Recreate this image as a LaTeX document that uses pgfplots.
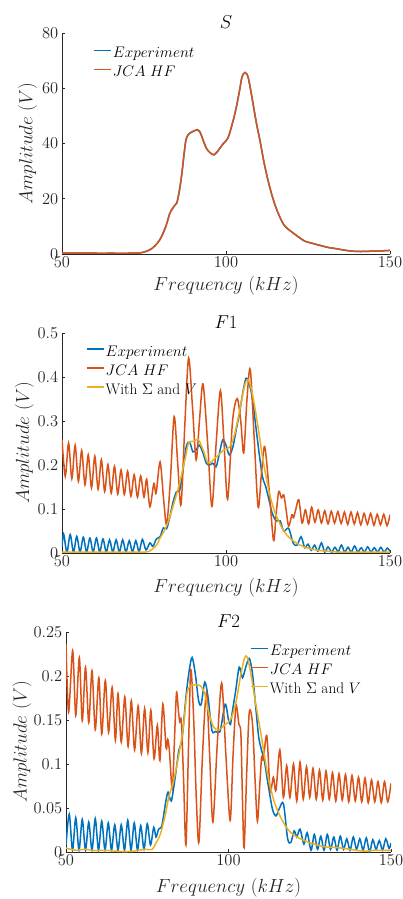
\RequirePackage{fix-cm}
\documentclass[border=0pt]{standalone}
\usepackage{pgfplots}
\pgfplotsset{compat=1.18}
\definecolor{mblue}{rgb}{0,0.447,0.741}
\definecolor{morange}{rgb}{0.85,0.325,0.098}
\definecolor{myellow}{rgb}{0.929,0.694,0.125}
\definecolor{mgray}{rgb}{0.15,0.15,0.15}
\pgfplotsset{
 mstyle/.style={
  scale only axis,
  axis x line*=bottom, axis y line*=left,
  axis line style={-, draw=mgray, line width=0.6pt},
  tick style={mgray, line width=0.6pt},
  tick align=inside,
  major tick length=3.3pt,
  xmin=50, xmax=150,
  xtick={50,100,150},
  xticklabels={$50$,$100$,$150$},
  scaled ticks=false,
  enlargelimits=false,
  tick label style={font=\fontsize{16.5}{19}\selectfont, text=mgray},
  xticklabel style={inner sep=0pt, anchor=north, yshift=-3pt},
  yticklabel style={inner sep=0pt, anchor=east, xshift=-3.5pt},
  label style={font=\fontsize{19}{22}\selectfont, text=mgray},
  xlabel={$Frequency\ (kHz)$},
  ylabel={$Amplitude\ (V)$},
  title style={font=\fontsize{18.7}{22}\selectfont, at={(axis description cs:0.5,0.995)}, anchor=base, inner sep=0pt},
  legend style={draw=none, fill=none, inner sep=0pt, outer sep=0pt, anchor=north west, font=\fontsize{15.3}{18}\selectfont, row sep=5pt, column sep=1pt, nodes={inner sep=0pt, text height=10.5pt, text depth=3.5pt}},
  legend cell align=left,
  legend image code/.code={\draw[#1, line width=1.8pt] (0pt,3.8pt) -- (17pt,3.8pt);},
  every axis plot/.append style={line width=1.5pt, smooth, no marks},
 }
}
\begin{document}
\begin{tikzpicture}
\useasboundingbox (0,0) rectangle (403pt,899pt);
% ---------------- S ----------------
\begin{axis}[mstyle, at={(62pt,645pt)}, anchor=south west, width=328pt, height=221pt,
  ymin=0, ymax=80, ytick={0,20,40,60,80}, yticklabels={$0$,$20$,$40$,$60$,$80$},
  title={$S$},
  xlabel style={at={(axis description cs:0.5,-0.1674)}, anchor=base},
  ylabel style={at={(axis description cs:-0.090,0.5)}, anchor=base},
  legend style={at={(axis description cs:0.0945,0.9354)}}]
\addplot[mblue] coordinates {(50,0.3) (55,0.3) (60,0.3) (62,0.2) (65,0.3) (68,0.2) (71,0.3) (73.8,0.4) (75.5,0.9) (77.3,1.9) (79,3.8) (80.4,6.4) (81.8,10.5) (82.9,14.8) (84,17) (85,18.5) (85.8,23) (86.5,28.7) (87.2,36) (87.8,41.4) (88.5,43.2) (89,43.8) (90.2,44.5) (91.3,45.0) (92.0,44.3) (92.6,42.6) (93.3,40.3) (94.1,38.1) (95.2,36.6) (96.3,35.9) (97.2,36.8) (98.2,38.4) (99.2,40) (100.3,41.4) (101,43.3) (101.7,46.2) (102.5,49.8) (103.3,54.0) (104.1,59) (104.8,63.7) (105.3,65.2) (105.8,65.7) (106.3,65.2) (106.8,63.7) (107.5,59.5) (108.3,54.0) (109.3,47.2) (110.4,40.8) (111.4,34.3) (112.4,28.7) (113.6,23) (114.9,17.9) (116.4,13.4) (118.0,10.0) (120.5,7.6) (122.3,6) (124.1,4.6) (126.5,3.8) (128.7,3.1) (131,2.4) (133.7,1.9) (136,1.4) (138.8,1.0) (141,0.9) (143.9,1.0) (147,1.1) (150,1.3)};
\addlegendentry{$Experiment$}
\addplot[morange] coordinates {(50,0.3) (55,0.3) (60,0.3) (62,0.2) (65,0.3) (68,0.2) (71,0.3) (73.8,0.4) (75.5,0.9) (77.3,1.9) (79,3.8) (80.4,6.4) (81.8,10.5) (82.9,14.8) (84,17) (85,18.5) (85.8,23) (86.5,28.7) (87.2,36) (87.8,41.4) (88.5,43.2) (89,43.8) (90.2,44.5) (91.3,45.0) (92.0,44.3) (92.6,42.6) (93.3,40.3) (94.1,38.1) (95.2,36.6) (96.3,35.9) (97.2,36.8) (98.2,38.4) (99.2,40) (100.3,41.4) (101,43.3) (101.7,46.2) (102.5,49.8) (103.3,54.0) (104.1,59) (104.8,63.7) (105.3,65.2) (105.8,65.7) (106.3,65.2) (106.8,63.7) (107.5,59.5) (108.3,54.0) (109.3,47.2) (110.4,40.8) (111.4,34.3) (112.4,28.7) (113.6,23) (114.9,17.9) (116.4,13.4) (118.0,10.0) (120.5,7.6) (122.3,6) (124.1,4.6) (126.5,3.8) (128.7,3.1) (131,2.4) (133.7,1.9) (136,1.4) (138.8,1.0) (141,0.9) (143.9,1.0) (147,1.1) (150,1.3)};
\addlegendentry{$JCA\ HF$}
\end{axis}
% ---------------- F1 ----------------
\begin{axis}[mstyle, at={(62pt,346pt)}, anchor=south west, width=328pt, height=220pt,
  ymin=0, ymax=0.5, ytick={0,0.1,0.2,0.3,0.4,0.5}, yticklabels={$0$,$0.1$,$0.2$,$0.3$,$0.4$,$0.5$},
  title={$F1$},
  xlabel style={at={(axis description cs:0.5,-0.1786)}, anchor=base},
  ylabel style={at={(axis description cs:-0.1006,0.5)}, anchor=base},
  legend style={at={(axis description cs:0.073,0.9416)}}]
\addplot[mblue] coordinates {(50,0.015) (50.5,0.043) (51.5,0.002) (52.5,0.042) (53.5,0.002) (54.5,0.038) (55.5,0.002) (56.5,0.036) (57.5,0.002) (58.5,0.034) (59.5,0.002) (60.5,0.034) (61.5,0.002) (62.5,0.032) (63.5,0.002) (64.5,0.03) (65.5,0.002) (66.5,0.03) (67.5,0.002) (68.5,0.03) (69.5,0.002) (70.5,0.028) (71.5,0.002) (72.5,0.028) (73.5,0.003) (74.5,0.031) (75.6,0.007) (76.8,0.023) (77.7,0.015) (78.8,0.032) (79.9,0.037) (80.9,0.057) (81.9,0.055) (82.9,0.083) (83.9,0.117) (84.9,0.139) (85.9,0.143) (86.9,0.189) (87.9,0.242) (88.9,0.252) (89.9,0.23) (90.9,0.234) (91.9,0.245) (93.0,0.227) (94.0,0.204) (95.0,0.2) (96.0,0.204) (97.0,0.196) (98.0,0.227) (99.0,0.257) (100.0,0.245) (101.0,0.223) (102.1,0.241) (103.1,0.28) (104.1,0.317) (105.1,0.363) (106.1,0.397) (107.1,0.385) (108.1,0.348) (109.1,0.287) (110.1,0.227) (111.1,0.174) (112.1,0.151) (113.1,0.121) (114.1,0.09) (115.3,0.073) (116.5,0.073) (117.6,0.05) (119.1,0.056) (120.5,0.022) (121.7,0.018) (122.9,0.037) (124.0,0.012) (125.0,0.02) (126.0,0.006) (127.0,0.018) (128.0,0.004) (129.1,0.023) (130.1,0.002) (131.1,0.014) (132.2,0.002) (133.2,0.013) (134.2,0.003) (135.2,0.018) (136.2,0.002) (137.2,0.013) (138.2,0.002) (139.2,0.016) (140.2,0.002) (141.2,0.012) (142.2,0.002) (143.2,0.014) (144.2,0.002) (145.2,0.012) (146.2,0.002) (147.2,0.013) (148.2,0.002) (149.2,0.011) (150,0.004)};
\addlegendentry{$Experiment$}
\addplot[morange] coordinates {(50,0.258) (51,0.174) (52,0.250) (53,0.169) (54,0.245) (55,0.163) (56,0.233) (57,0.155) (58,0.223) (59,0.148) (60,0.220) (61,0.145) (62,0.212) (63,0.140) (64,0.201) (65,0.136) (66,0.197) (67,0.134) (68,0.189) (69,0.133) (70,0.186) (71,0.129) (72,0.178) (73,0.127) (74,0.175) (75,0.127) (75.8,0.168) (76.8,0.105) (78.0,0.158) (78.7,0.136) (79.9,0.207) (81.0,0.12) (81.9,0.065) (83.0,0.16) (84.2,0.31) (85.3,0.2) (86.3,0.11) (87.5,0.3) (88.6,0.443) (89.8,0.33) (90.9,0.212) (92.0,0.31) (93.0,0.384) (94.4,0.25) (95.7,0.106) (97.0,0.25) (98.3,0.369) (99.4,0.25) (100.5,0.122) (102.0,0.3) (103.4,0.351) (104.5,0.3) (105.4,0.227) (106.4,0.35) (107.4,0.417) (108.6,0.26) (109.8,0.104) (110.8,0.18) (111.8,0.242) (113.2,0.14) (114.5,0.028) (115.3,0.09) (116.1,0.14) (116.9,0.125) (117.6,0.132) (118.3,0.1) (119.1,0.061) (120.1,0.087) (120.6,0.08) (121.3,0.1) (122.2,0.121) (123.2,0.068) (124.2,0.098) (125.2,0.066) (126.1,0.104) (127.1,0.07) (128.1,0.098) (129.1,0.068) (130.1,0.096) (131.1,0.066) (132.1,0.095) (133.1,0.068) (134.1,0.094) (135.1,0.067) (136.1,0.093) (137.1,0.065) (138.1,0.093) (139.1,0.066) (140.1,0.092) (141.1,0.064) (142.1,0.09) (143.1,0.065) (144.1,0.09) (145.1,0.063) (146.1,0.088) (147.1,0.064) (148.1,0.088) (149.1,0.062) (150,0.087)};
\addlegendentry{$JCA\ HF$}
\addplot[myellow] coordinates {(50,0.002) (60,0.002) (70,0.002) (75.4,0.002) (76.8,0.005) (77.9,0.011) (79.0,0.02) (79.9,0.034) (81.0,0.048) (82.0,0.064) (83.0,0.085) (84.0,0.11) (85.0,0.135) (86.0,0.163) (86.8,0.19) (87.6,0.216) (88.6,0.25) (90.1,0.254) (91.6,0.258) (92.4,0.245) (93.2,0.231) (94.0,0.212) (94.7,0.205) (95.5,0.207) (96.2,0.212) (97.3,0.22) (98.3,0.227) (99.3,0.234) (100.3,0.237) (101.3,0.243) (102.3,0.261) (103.1,0.285) (103.9,0.314) (104.7,0.345) (105.4,0.371) (106.0,0.388) (106.7,0.394) (107.3,0.385) (107.9,0.367) (108.7,0.335) (109.5,0.299) (110.3,0.26) (111,0.223) (111.8,0.19) (112.5,0.163) (113.2,0.137) (114,0.114) (115,0.09) (116.1,0.072) (117,0.058) (118.1,0.045) (119.3,0.035) (120.6,0.027) (122.3,0.019) (124.2,0.013) (126,0.009) (128.3,0.006) (131,0.004) (134.3,0.002) (140,0.002) (150,0.002)};
\addlegendentry{With $\Sigma$ and $V$}
\end{axis}
% ---------------- F2 ----------------
\begin{axis}[mstyle, at={(66pt,47pt)}, anchor=south west, width=325pt, height=220pt,
  ymin=0, ymax=0.25, ytick={0,0.05,0.1,0.15,0.2,0.25}, yticklabels={$0$,$0.05$,$0.1$,$0.15$,$0.2$,$0.25$},
  title={$F2$},
  xlabel style={at={(axis description cs:0.5,-0.1855)}, anchor=base},
  ylabel style={at={(axis description cs:-0.1213,0.5)}, anchor=base},
  legend style={at={(axis description cs:0.566,0.9394)}}]
\addplot[mblue] coordinates {(50,0.008) (51,0.043) (52,0.002) (53,0.039) (54,0.002) (55,0.037) (56,0.002) (57,0.034) (58,0.002) (59,0.038) (60,0.002) (61,0.035) (62,0.002) (63,0.033) (64,0.002) (65,0.031) (66,0.002) (67,0.031) (68,0.002) (69,0.036) (70,0.002) (71,0.033) (72,0.002) (73,0.03) (74,0.003) (75,0.032) (76,0.008) (77,0.028) (77.7,0.017) (78.5,0.026) (79.5,0.03) (80.6,0.055) (81.4,0.068) (82.4,0.058) (83.6,0.085) (84.7,0.115) (85.7,0.128) (86.9,0.176) (87.9,0.206) (88.8,0.221) (89.8,0.202) (90.8,0.172) (91.6,0.168) (92.7,0.193) (93.7,0.176) (94.9,0.138) (96.0,0.137) (97.0,0.136) (97.6,0.14) (99.0,0.168) (100.0,0.15) (100.6,0.145) (101.2,0.16) (102.2,0.183) (103.3,0.21) (104.3,0.198) (105.3,0.21) (106.4,0.22) (107.4,0.202) (108.4,0.164) (109.4,0.128) (111.0,0.104) (112.0,0.081) (113.5,0.049) (114.6,0.041) (115.6,0.049) (116.9,0.055) (118.2,0.015) (119.2,0.011) (120.2,0.024) (121.0,0.017) (122.0,0.026) (123.2,0.009) (124.2,0.022) (125.4,0.002) (126.4,0.02) (127.4,0.003) (128.4,0.018) (129.4,0.002) (130.4,0.02) (131.4,0.003) (132.4,0.017) (133.4,0.002) (134.4,0.018) (135.4,0.003) (136.4,0.015) (137.4,0.002) (138.4,0.017) (139.4,0.003) (140.4,0.015) (141.4,0.002) (142.4,0.016) (143.4,0.0) (144.4,0.014) (145.4,0.003) (146.4,0.013) (147.4,0.002) (148.4,0.015) (149.4,0.004) (150,0.01)};
\addlegendentry{$Experiment$}
\addplot[morange] coordinates {(50,0.236) (50.8,0.159) (52.05,0.229) (53.0,0.155) (54.1,0.221) (55.0,0.149) (56.0,0.21) (57.0,0.147) (58.0,0.206) (59.0,0.139) (60.1,0.198) (61.0,0.134) (62.1,0.195) (63.1,0.136) (64.2,0.187) (65.2,0.127) (66.0,0.18) (67.0,0.125) (68.1,0.176) (69.1,0.12) (70.1,0.172) (71.1,0.116) (72.2,0.166) (73.2,0.112) (74.2,0.163) (75.2,0.113) (76.1,0.161) (77.1,0.106) (78.1,0.144) (78.9,0.104) (79.8,0.168) (80.8,0.118) (81.3,0.128) (81.8,0.116) (82.7,0.072) (83.4,0.13) (84.0,0.181) (84.6,0.16) (85.0,0.148) (85.5,0.148) (86.2,0.08) (86.9,0.008) (87.7,0.12) (88.4,0.207) (89.3,0.15) (90.1,0.06) (90.9,0.011) (92.0,0.11) (93.2,0.181) (94.2,0.11) (95.2,0.034) (96.5,0.12) (97.9,0.192) (99.2,0.11) (100.5,0.036) (101.4,0.11) (102.3,0.166) (103.2,0.145) (103.8,0.135) (104.3,0.06) (104.8,0.005) (105.6,0.09) (106.4,0.159) (107.4,0.145) (108.2,0.08) (108.9,0.035) (109.6,0.075) (110.2,0.108) (110.7,0.105) (111.8,0.132) (112.8,0.07) (113.8,0.085) (114.6,0.07) (115.8,0.116) (116.9,0.062) (117.9,0.098) (118.9,0.062) (120.0,0.1) (121.0,0.058) (122.0,0.102) (123.0,0.06) (124.0,0.097) (125.0,0.062) (126.0,0.095) (127.0,0.06) (128.0,0.093) (129.0,0.059) (130.0,0.092) (131.0,0.06) (132.0,0.09) (133.0,0.058) (134.0,0.089) (135.0,0.059) (136.0,0.088) (137.0,0.057) (138.0,0.087) (139.0,0.058) (140.0,0.085) (141.0,0.057) (142.0,0.084) (143.0,0.056) (144.0,0.082) (145.0,0.057) (146.0,0.08) (147.0,0.056) (148.0,0.08) (149.0,0.057) (150.0,0.078)};
\addlegendentry{$JCA\ HF$}
\addplot[myellow] coordinates {(50,0.0045) (53,0.002) (56,0.003) (59,0.0015) (62,0.002) (65,0.001) (68,0.0005) (71,0.001) (74,0.003) (76.5,0.003) (77.5,0.009) (79,0.02) (80.6,0.043) (81.6,0.062) (83.1,0.081) (84.6,0.108) (86.2,0.145) (87.2,0.18) (88.3,0.189) (89.8,0.19) (91.3,0.189) (92.7,0.18) (93.9,0.159) (95.4,0.142) (97.0,0.139) (99.0,0.145) (100.7,0.151) (102.3,0.17) (103.8,0.202) (105.0,0.221) (105.8,0.221) (106.9,0.202) (108.4,0.168) (110.0,0.134) (112.0,0.089) (114.0,0.058) (116.1,0.039) (118.2,0.026) (120.2,0.019) (123.3,0.013) (126.4,0.009) (129.4,0.006) (133.5,0.005) (137.5,0.003) (141.6,0.001) (145.7,0.002) (150,0.0015)};
\addlegendentry{With $\Sigma$ and $V$}
\end{axis}
\end{tikzpicture}
\end{document}
